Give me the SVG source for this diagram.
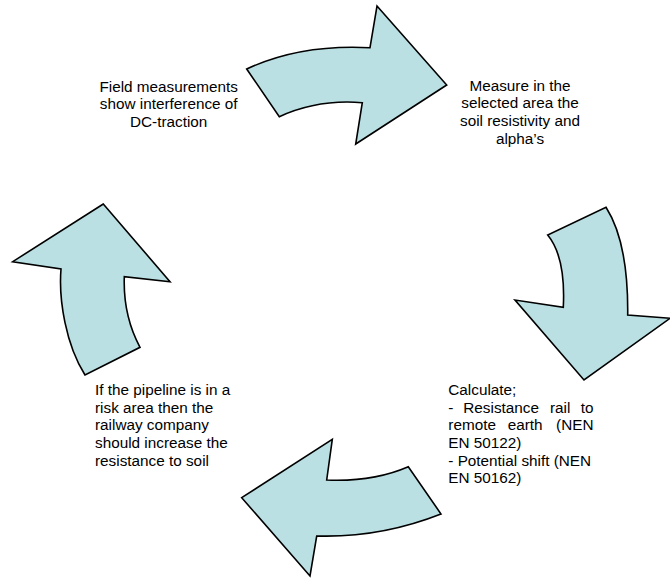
<svg xmlns="http://www.w3.org/2000/svg" width="670" height="578" viewBox="0 0 670 578">
<style>
.arrow{fill:#BBE0E3;stroke:#000;stroke-width:1.6;stroke-linejoin:miter}
.t{font-family:"Liberation Sans",Arial,sans-serif;font-size:15.3px;fill:#000}
.c{text-anchor:middle}
.e{text-anchor:end}
</style>
<rect width="670" height="578" fill="#fff"/>
<g id="connectors">
<path id="arrow-top" class="arrow" d="M246.7,69 Q300,44 370,47.7 L377,6 L446.7,85 L355.7,144 L362.3,102.7 Q318,99 279.3,116.7 Z"/>
<path id="arrow-right" class="arrow" d="M547.7,235 C560,250 565,273 563.3,307.3 L515,300 L584,380 L670,318.3 L627.7,315 C628.3,256.7 617.3,225 606,207.3 Z"/>
<path id="arrow-bottom" class="arrow" d="M408.3,466.7 Q373,482 326.7,480 L332.3,439.3 L241.7,497.7 L310,576 L316.7,536 Q380,538 441,514 Z"/>
<path id="arrow-left" class="arrow" d="M103.3,204 L12.7,261.7 L61,269 C58.5,300 66,345 85,375 L140,347.3 C128,325 123.5,300 124.3,276.7 L170,281.7 Z"/>
</g>
<g id="node-field">
<text class="t c" x="168.7" y="91.5">Field measurements</text>
<text class="t c" x="168.7" y="109.2">show interference of</text>
<text class="t c" x="168.7" y="126.8">DC-traction</text>
</g>
<g id="node-measure">
<text class="t c" x="520" y="90.7">Measure in the</text>
<text class="t c" x="520" y="108.3">selected area the</text>
<text class="t c" x="520" y="126">soil resistivity and</text>
<text class="t c" x="520" y="143.6">alpha’s</text>
</g>
<g id="node-calculate">
<text class="t" x="448.3" y="395">Calculate;</text>
<text class="t" y="412.7"><tspan x="448.3">-</tspan><tspan x="463.3">Resistance</tspan><tspan x="550">rail</tspan><tspan x="593.5" text-anchor="end">to</tspan></text>
<text class="t" y="430.3"><tspan x="448.3">remote</tspan><tspan x="507.7">earth</tspan><tspan x="593.5" text-anchor="end">(NEN</tspan></text>
<text class="t" x="448.3" y="447.9">EN 50122)</text>
<text class="t" x="448.3" y="465.5">- Potential shift (NEN</text>
<text class="t" x="448.3" y="483.2">EN 50162)</text>
</g>
<g id="node-pipeline">
<text class="t" x="95" y="395">If the pipeline is in a</text>
<text class="t" x="95" y="412.7">risk area then the</text>
<text class="t" x="95" y="430.3">railway company</text>
<text class="t" x="95" y="448">should increase the</text>
<text class="t" x="95" y="465.6">resistance to soil</text>
</g>
</svg>
